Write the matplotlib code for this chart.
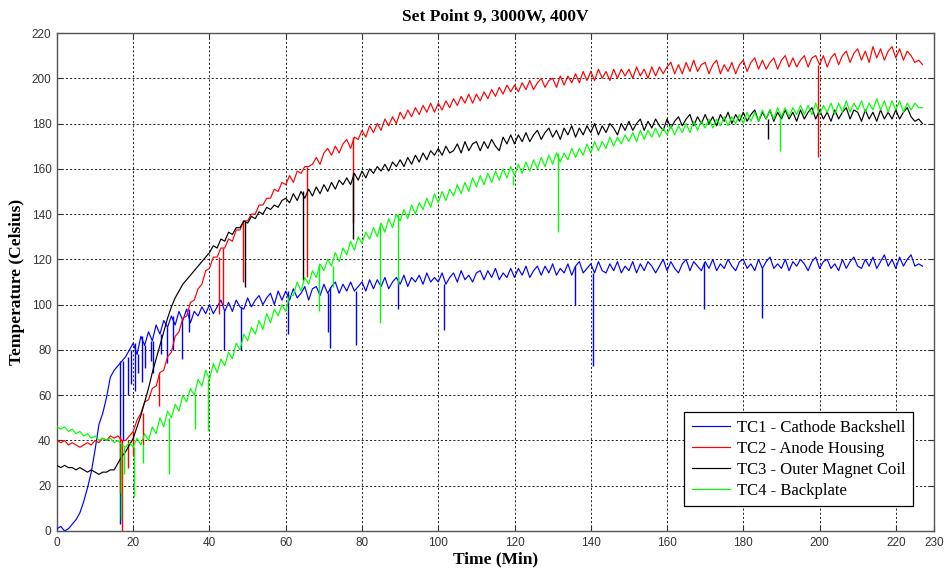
#!/usr/bin/env python3
"""Thermocouple temperatures for set point 9 (3000 W, 400 V)."""

from __future__ import annotations

import matplotlib

matplotlib.use("Agg")
import matplotlib.pyplot as plt
import numpy as np


# one reading per minute, t = 0 .. 227
TIME_MIN = list(range(228))

TC1_BACKSHELL = [
    1, 2, 0, 1, 3, 5, 8, 13, 19, 26,
    36, 47, 52, 59, 68, 71, 73, 75, 77, 80,
    83, 78, 86, 82, 88, 84, 91, 87, 93, 90,
    95, 91, 97, 93, 98, 92, 97, 95, 99, 96,
    100, 96, 99, 102, 97, 101, 97, 102, 99, 98,
    103, 99, 102, 104, 100, 103, 105, 100, 106, 102,
    106, 102, 107, 103, 105, 108, 102, 107, 108, 104,
    109, 105, 108, 110, 105, 109, 106, 110, 106, 108,
    110, 106, 111, 107, 111, 108, 112, 107, 110, 112,
    109, 113, 108, 112, 110, 113, 109, 114, 110, 112,
    110, 114, 109, 112, 114, 110, 115, 111, 113, 110,
    114, 115, 111, 115, 112, 116, 111, 114, 112, 116,
    112, 116, 113, 117, 112, 115, 117, 113, 117, 114,
    118, 113, 116, 114, 118, 113, 117, 119, 114, 116,
    118, 114, 119, 115, 114, 118, 115, 119, 114, 117,
    115, 119, 114, 118, 115, 119, 117, 114, 117, 120,
    115, 119, 116, 114, 118, 120, 115, 119, 117, 115,
    119, 116, 120, 115, 118, 116, 120, 117, 115, 119,
    120, 116, 118, 115, 120, 116, 119, 121, 116, 118,
    116, 120, 115, 119, 117, 120, 118, 115, 119, 121,
    116, 119, 120, 116, 118, 115, 120, 116, 119, 121,
    117, 116, 120, 117, 121, 116, 119, 122, 117, 120,
    116, 121, 117, 120, 122, 117, 118, 117,
]

TC2_ANODE = [
    40, 39, 40, 38, 39, 38, 37, 38, 39, 38,
    40, 39, 41, 40, 42, 41, 42, 40, 40, 42,
    44, 49, 52, 57, 58, 63, 64, 70, 71, 77,
    79, 86, 88, 94, 95, 101, 102, 107, 109, 115,
    116, 121, 121, 125, 125, 129, 128, 133, 133, 137,
    137, 140, 140, 144, 144, 147, 147, 151, 150, 154,
    153, 157, 154, 159, 158, 161, 161, 162, 165, 162,
    167, 169, 166, 170, 167, 171, 173, 169, 174, 173,
    177, 174, 179, 176, 180, 177, 182, 179, 183, 180,
    185, 182, 186, 183, 187, 184, 188, 185, 189, 185,
    189, 186, 190, 187, 191, 188, 192, 189, 193, 189,
    193, 190, 194, 191, 195, 192, 196, 193, 197, 194,
    197, 194, 198, 195, 199, 195, 198, 200, 196, 199,
    200, 196, 201, 197, 201, 198, 202, 198, 203, 199,
    203, 199, 204, 200, 203, 199, 204, 200, 204, 201,
    204, 200, 205, 201, 204, 200, 205, 201, 205, 202,
    205, 207, 202, 206, 202, 207, 203, 208, 203, 206,
    207, 202, 206, 208, 202, 206, 203, 207, 202, 206,
    208, 203, 207, 209, 204, 208, 204, 207, 209, 204,
    208, 210, 205, 209, 205, 208, 210, 205, 209, 210,
    206, 210, 205, 209, 211, 206, 210, 212, 207, 211,
    213, 208, 212, 207, 214, 209, 213, 208, 212, 214,
    209, 213, 208, 212, 210, 207, 208, 206,
]

TC3_MAGNET = [
    29, 28, 29, 28, 28, 27, 28, 27, 26, 27,
    26, 25, 26, 26, 27, 27, 30, 33, 35, 38,
    41, 46, 51, 57, 63, 70, 76, 82, 88, 94,
    99, 103, 106, 109, 111, 113, 115, 117, 119, 121,
    123, 126, 125, 129, 128, 132, 131, 134, 134, 137,
    136, 139, 138, 141, 140, 143, 142, 144, 143, 146,
    147, 145, 149, 146, 150, 147, 151, 148, 152, 149,
    153, 150, 154, 151, 155, 153, 156, 153, 158, 155,
    159, 156, 160, 158, 161, 159, 162, 159, 163, 161,
    164, 161, 165, 162, 166, 163, 167, 164, 168, 166,
    169, 166, 170, 167, 168, 171, 167, 172, 168, 171,
    172, 168, 172, 169, 173, 170, 168, 174, 171, 175,
    171, 175, 172, 176, 172, 175, 177, 173, 176, 178,
    174, 177, 173, 178, 175, 179, 174, 178, 175, 179,
    176, 180, 175, 179, 176, 180, 178, 175, 180, 177,
    181, 177, 180, 182, 177, 181, 178, 182, 179, 177,
    182, 178, 181, 183, 179, 182, 184, 179, 183, 180,
    184, 180, 183, 179, 184, 181, 185, 180, 184, 181,
    185, 181, 184, 186, 181, 185, 182, 186, 181, 185,
    182, 186, 182, 185, 181, 186, 182, 185, 187, 182,
    186, 182, 185, 181, 186, 182, 185, 187, 182, 186,
    185, 181, 186, 182, 185, 181, 186, 182, 185, 182,
    186, 182, 185, 187, 183, 181, 182, 180,
]

TC4_BACKPLATE = [
    46, 45, 46, 44, 45, 43, 44, 42, 43, 41,
    42, 40, 41, 40, 41, 39, 40, 38, 37, 39,
    37, 41, 38, 43, 40, 46, 43, 50, 46, 53,
    50, 56, 53, 60, 57, 63, 60, 67, 64, 71,
    67, 74, 70, 76, 73, 79, 76, 83, 80, 87,
    84, 90, 87, 93, 89, 96, 92, 98, 95, 100,
    97, 104, 104, 110, 106, 112, 109, 115, 112, 118,
    115, 120, 117, 123, 119, 125, 122, 128, 124, 130,
    127, 132, 129, 134, 130, 136, 132, 138, 134, 140,
    137, 142, 138, 144, 140, 145, 142, 147, 143, 149,
    145, 150, 146, 151, 148, 153, 149, 154, 150, 156,
    152, 157, 153, 158, 154, 159, 155, 160, 156, 161,
    157, 162, 158, 163, 159, 164, 160, 165, 161, 166,
    162, 167, 163, 167, 164, 169, 165, 169, 166, 171,
    167, 172, 168, 172, 169, 174, 170, 174, 171, 175,
    172, 176, 172, 177, 173, 177, 174, 178, 174, 178,
    175, 179, 175, 179, 176, 180, 176, 181, 177, 181,
    178, 182, 178, 182, 179, 183, 179, 183, 180, 184,
    180, 185, 181, 185, 181, 186, 182, 186, 182, 187,
    183, 187, 183, 187, 184, 188, 184, 188, 184, 189,
    184, 188, 185, 189, 184, 189, 185, 190, 185, 189,
    186, 190, 185, 189, 186, 191, 186, 190, 185, 190,
    186, 190, 185, 189, 186, 189, 187, 187,
]

# dropouts: time (min) and the lowest reading of each spike
TC1_SPIKE_T = [16.6, 17.2, 18.5, 19.4, 20.5, 21.3, 22.4, 23.2, 24.6, 25.3,
               27.4, 28.9, 30.5, 32.8, 34.5, 43.7, 48.2, 60.5, 71.0, 71.6,
               78.4, 89.4, 101.6, 135.8, 140.6, 169.7, 184.9]
TC1_SPIKE_LO = [3, 40, 60, 65, 62, 70, 66, 72, 75, 70,
                78, 74, 80, 76, 88, 80, 80, 87, 88, 81,
                82, 98, 89, 100, 73, 98, 94]
TC2_SPIKE_T = [16.5, 17.0, 18.5, 20.0, 22.5, 26.8, 42.5, 43.5, 48.9, 65.5, 77.6, 199.5]
TC2_SPIKE_LO = [17, 0, 28, 33, 38, 55, 96, 100, 110, 112, 136, 165]
TC3_SPIKE_T = [49.2, 64.4, 77.6, 186.5]
TC3_SPIKE_LO = [108, 111, 129, 173]
TC4_SPIKE_T = [16.9, 17.5, 20.2, 22.5, 29.5, 36.3, 39.6, 68.7, 72.4, 84.7,
               89.4, 119.7, 131.4, 189.5]
TC4_SPIKE_LO = [5, 25, 15, 30, 25, 45, 44, 97, 108, 92, 109, 153, 132, 168]

LABELS = [
    "TC1 - Cathode Backshell",
    "TC2 - Anode Housing",
    "TC3 - Outer Magnet Coil",
    "TC4 - Backplate",
]
COLORS = ["#0000ff", "#ff0000", "#000000", "#00ff00"]

X_TICKS = [0, 20, 40, 60, 80, 100, 120, 140, 160, 180, 200, 220, 230]
Y_TICKS = list(range(0, 221, 20))

SERIF = ["Liberation Serif", "DejaVu Serif"]
SANS = ["Liberation Sans", "DejaVu Sans"]


def main() -> None:
    t = np.array(TIME_MIN, dtype=float)
    series = [TC1_BACKSHELL, TC2_ANODE, TC3_MAGNET, TC4_BACKPLATE]
    spikes = [
        (TC1_SPIKE_T, TC1_SPIKE_LO),
        (TC2_SPIKE_T, TC2_SPIKE_LO),
        (TC3_SPIKE_T, TC3_SPIKE_LO),
        (TC4_SPIKE_T, TC4_SPIKE_LO),
    ]

    fig = plt.figure(figsize=(9.45, 5.69), dpi=100)
    ax = fig.add_axes([0.0603, 0.0668, 0.928, 0.8752])

    for vals, (sp_t, sp_lo), color, label in zip(series, spikes, COLORS, LABELS):
        y = np.array(vals, dtype=float)
        ax.plot(t, y, color=color, linewidth=0.85, label=label, zorder=3)
        idx = np.clip(np.round(sp_t).astype(int), 0, len(y) - 1)
        ax.vlines(sp_t, sp_lo, y[idx], color=color, linewidth=1.0, zorder=3)

    ax.set_xlim(0, 230)
    ax.set_ylim(0, 220)
    ax.set_xticks(X_TICKS)
    ax.set_yticks(Y_TICKS)
    ax.grid(True, color="black", linestyle=(0, (2.5, 2.5)), linewidth=0.6)
    ax.set_axisbelow(True)
    ax.tick_params(direction="in", length=4, width=0.8, top=True, right=True,
                   colors="#333333", labelsize=8.5, pad=4)
    for lab in ax.get_xticklabels() + ax.get_yticklabels():
        lab.set_family(SANS)
    for spine in ax.spines.values():
        spine.set_color("#555555")
        spine.set_linewidth(1.0)

    ax.set_title("Set Point 9, 3000W, 400V", family=SERIF, fontweight="bold",
                 fontsize=12.5, pad=9)
    ax.set_xlabel("Time (Min)", family=SERIF, fontweight="bold", fontsize=12.5, labelpad=2)
    ax.set_ylabel("Temperature (Celsius)", family=SERIF, fontweight="bold", fontsize=12.5,
                  labelpad=5)

    leg = ax.legend(loc="lower right", bbox_to_anchor=(0.976, 0.05), borderaxespad=0,
                    fancybox=False, framealpha=1, edgecolor="black", handlelength=2.3,
                    borderpad=0.45, labelspacing=0.3, handletextpad=0.4,
                    prop={"family": SERIF, "size": 12})
    leg.get_frame().set_linewidth(0.9)

    fig.savefig("out.png", dpi=100)
    plt.close(fig)


if __name__ == "__main__":
    main()
